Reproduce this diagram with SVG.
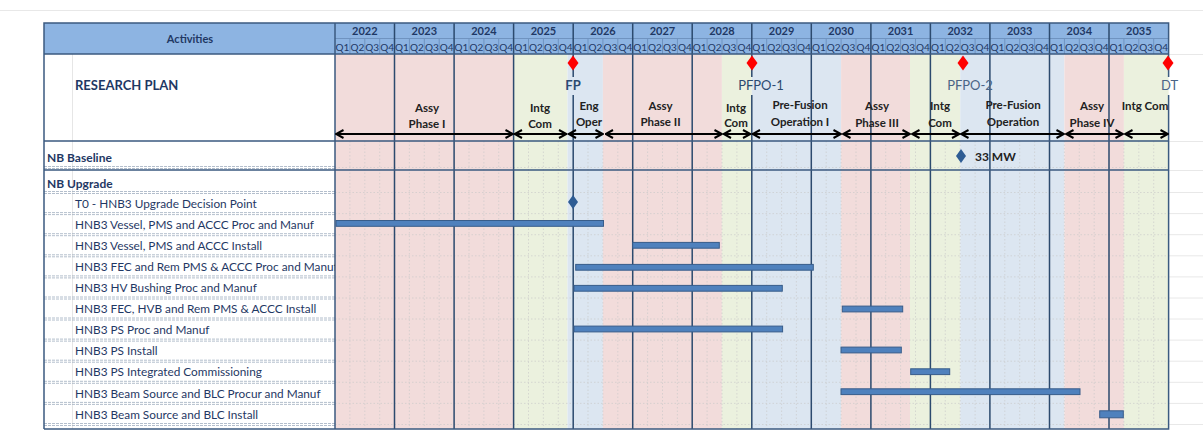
<svg xmlns="http://www.w3.org/2000/svg" width="1203" height="435" viewBox="0 0 1203 435">
<style>
.t{font-family:Lato,"Liberation Sans",sans-serif}
.hdr{font-size:11px;font-weight:bold;fill:#1f3864}
.q{font-size:10px;fill:#1f3864}
.ph{font-size:11.5px;font-weight:bold;fill:#222;text-anchor:middle}
.ms{font-size:13px;text-anchor:middle}
.sec{font-size:12px;font-weight:bold;fill:#1f3864}
.row{font-size:11.8px;fill:#1f3864}
.bar{fill:#4f81bd;stroke:#385d8a;stroke-width:1}
.pink{fill:#f2dcdb}.green{fill:#ebf1de}.blue{fill:#dce6f1}
.yl{stroke:#2c4a6e;stroke-width:1.5;fill:none}
.bd{stroke:#3b5a80;stroke-width:1.5;fill:none}
.dots{stroke:#c8c8c8;stroke-width:0.8;stroke-dasharray:1.5 2;fill:none;opacity:0.8}
.rowsep{stroke:#9fadbf;stroke-width:0.8;stroke-dasharray:3 1;fill:none}
.arr{stroke:#000;stroke-width:2;fill:none;marker-start:url(#ah);marker-end:url(#ah)}
</style>
<defs>
<marker id="ah" viewBox="0 0 10 10" refX="9" refY="5" markerWidth="10" markerHeight="10" markerUnits="userSpaceOnUse" orient="auto-start-reverse">
<path d="M1.5,1 L9,5 L1.5,9" fill="none" stroke="#000" stroke-width="2"/>
</marker>
<clipPath id="lblclip"><rect x="44" y="54" width="291" height="375"/></clipPath>
</defs>
<rect width="1203" height="435" fill="#fff"/>
<!-- faint spreadsheet gridlines outside -->
<g stroke="#e8e8e8" stroke-width="1" fill="none">
<path d="M0 10.5H1203M1169 54.5H1203M1169 141.5H1203M1169 170.5H1203M1169 192.5H1203M1169 213.6H1203M1169 234.7H1203M1169 255.8H1203M1169 276.9H1203M1169 298H1203M1169 319H1203M1169 340.1H1203M1169 361.2H1203M1169 382.3H1203M1169 403.4H1203M1169 424.5H1203"/>
</g>
<!-- phase background bands -->
<g id="bands">
<rect class="pink" x="335" y="54" width="178.6" height="375"/>
<rect class="green" x="513.6" y="54" width="53.9" height="375"/>
<rect class="blue" x="567.5" y="54" width="35.4" height="375"/>
<rect class="pink" x="602.9" y="54" width="119" height="375"/>
<rect class="green" x="721.9" y="54" width="29.9" height="375"/>
<rect class="blue" x="751.8" y="54" width="89.3" height="375"/>
<rect class="pink" x="841.1" y="54" width="68.9" height="375"/>
<rect class="green" x="910" y="54" width="50.2" height="375"/>
<rect class="blue" x="960.2" y="54" width="104.2" height="375"/>
<rect class="pink" x="1064.4" y="54" width="59.5" height="375"/>
<rect class="green" x="1123.9" y="54" width="44.7" height="375"/>
</g>
<!-- faint grid in chart -->
<path class="dots" d="M349.9 141V429M364.8 141V429M379.7 141V429M409.4 141V429M424.3 141V429M439.2 141V429M469 141V429M483.9 141V429M498.7 141V429M528.5 141V429M543.4 141V429M558.3 141V429M588 141V429M602.9 141V429M617.8 141V429M647.6 141V429M662.5 141V429M677.4 141V429M707.1 141V429M722 141V429M736.9 141V429M766.7 141V429M781.6 141V429M796.4 141V429M826.2 141V429M841.1 141V429M856 141V429M885.7 141V429M900.6 141V429M915.5 141V429M945.3 141V429M960.2 141V429M975.1 141V429M1004.8 141V429M1019.7 141V429M1034.6 141V429M1064.4 141V429M1079.3 141V429M1094.2 141V429M1123.9 141V429M1138.8 141V429M1153.7 141V429"/>
<path class="dots" d="M335 167.5H1168.6M335 192.5H1168.6M335 213.6H1168.6M335 234.7H1168.6M335 255.8H1168.6M335 276.9H1168.6M335 298H1168.6M335 319H1168.6M335 340.1H1168.6M335 361.2H1168.6M335 382.3H1168.6M335 403.4H1168.6M335 424.5H1168.6"/>
<!-- label column -->
<g id="label-column">
<path d="M72.5 54V429" stroke="#e6e6e6" stroke-width="1"/>
<path class="rowsep" d="M44 166.5H335M44 168.5H335M44 191.5H335M44 193.5H335M44 212.6H335M44 214.6H335M44 233.7H335M44 235.7H335M44 254.8H335M44 256.8H335M44 275.9H335M44 277.9H335M44 297H335M44 299H335M44 318H335M44 320H335M44 339.1H335M44 341.1H335M44 360.2H335M44 362.2H335M44 381.3H335M44 383.3H335M44 402.4H335M44 404.4H335M44 423.5H335M44 425.5H335"/>
</g>
<!-- header -->
<g id="header">
<rect x="44" y="23" width="1124.6" height="31" fill="#8db4e2"/>
<path d="M335 38.5H1168.6" stroke="#6f93c0" stroke-width="1"/>
<path d="M349.9 38.5V54M364.8 38.5V54M379.7 38.5V54M409.4 38.5V54M424.3 38.5V54M439.2 38.5V54M469 38.5V54M483.9 38.5V54M498.7 38.5V54M528.5 38.5V54M543.4 38.5V54M558.3 38.5V54M588 38.5V54M602.9 38.5V54M617.8 38.5V54M647.6 38.5V54M662.5 38.5V54M677.4 38.5V54M707.1 38.5V54M722 38.5V54M736.9 38.5V54M766.7 38.5V54M781.6 38.5V54M796.4 38.5V54M826.2 38.5V54M841.1 38.5V54M856 38.5V54M885.7 38.5V54M900.6 38.5V54M915.5 38.5V54M945.3 38.5V54M960.2 38.5V54M975.1 38.5V54M1004.8 38.5V54M1019.7 38.5V54M1034.6 38.5V54M1064.4 38.5V54M1079.3 38.5V54M1094.2 38.5V54M1123.9 38.5V54M1138.8 38.5V54M1153.7 38.5V54" stroke="#6f93c0" stroke-width="1"/>
<text class="t hdr" x="190" y="43" text-anchor="middle">Activities</text>
<text class="t hdr" y="35" text-anchor="middle"><tspan x="364.8">2022</tspan><tspan x="424.3">2023</tspan><tspan x="483.9">2024</tspan><tspan x="543.4">2025</tspan><tspan x="602.9">2026</tspan><tspan x="662.5">2027</tspan><tspan x="722">2028</tspan><tspan x="781.6">2029</tspan><tspan x="841.1">2030</tspan><tspan x="900.6">2031</tspan><tspan x="960.2">2032</tspan><tspan x="1019.7">2033</tspan><tspan x="1079.3">2034</tspan><tspan x="1138.8">2035</tspan></text>
<text class="t q" y="50.5" text-anchor="middle"><tspan x="342.4">Q1</tspan><tspan x="357.3">Q2</tspan><tspan x="372.2">Q3</tspan><tspan x="387.1">Q4</tspan><tspan x="402">Q1</tspan><tspan x="416.9">Q2</tspan><tspan x="431.8">Q3</tspan><tspan x="446.6">Q4</tspan><tspan x="461.5">Q1</tspan><tspan x="476.4">Q2</tspan><tspan x="491.3">Q3</tspan><tspan x="506.2">Q4</tspan><tspan x="521.1">Q1</tspan><tspan x="536">Q2</tspan><tspan x="550.8">Q3</tspan><tspan x="565.7">Q4</tspan><tspan x="580.6">Q1</tspan><tspan x="595.5">Q2</tspan><tspan x="610.4">Q3</tspan><tspan x="625.3">Q4</tspan><tspan x="640.1">Q1</tspan><tspan x="655">Q2</tspan><tspan x="669.9">Q3</tspan><tspan x="684.8">Q4</tspan><tspan x="699.7">Q1</tspan><tspan x="714.6">Q2</tspan><tspan x="729.5">Q3</tspan><tspan x="744.3">Q4</tspan><tspan x="759.2">Q1</tspan><tspan x="774.1">Q2</tspan><tspan x="789">Q3</tspan><tspan x="803.9">Q4</tspan><tspan x="818.8">Q1</tspan><tspan x="833.7">Q2</tspan><tspan x="848.5">Q3</tspan><tspan x="863.4">Q4</tspan><tspan x="878.3">Q1</tspan><tspan x="893.2">Q2</tspan><tspan x="908.1">Q3</tspan><tspan x="923">Q4</tspan><tspan x="937.8">Q1</tspan><tspan x="952.7">Q2</tspan><tspan x="967.6">Q3</tspan><tspan x="982.5">Q4</tspan><tspan x="997.4">Q1</tspan><tspan x="1012.3">Q2</tspan><tspan x="1027.2">Q3</tspan><tspan x="1042">Q4</tspan><tspan x="1056.9">Q1</tspan><tspan x="1071.8">Q2</tspan><tspan x="1086.7">Q3</tspan><tspan x="1101.6">Q4</tspan><tspan x="1116.5">Q1</tspan><tspan x="1131.4">Q2</tspan><tspan x="1146.2">Q3</tspan><tspan x="1161.1">Q4</tspan></text>
</g>
<!-- year lines and borders -->
<path class="yl" d="M394.5 23V429M454.1 23V429M513.6 23V429M573.2 23V77M573.2 95V429M632.7 23V429M692.2 23V429M751.8 23V77M751.8 95V429M811.3 23V429M870.9 23V429M930.4 23V429M989.9 23V429M1049.5 23V429M1109 23V429"/>
<path class="bd" d="M44 429V23H1168.6V77M1168.6 95V429H44M335 23V429M44 54H1168.6M44 141H1168.6M44 170H1168.6"/>
<!-- research plan -->
<g id="research-plan">
<text class="t" x="75" y="89.5" font-size="13" font-weight="bold" fill="#1f3864">RESEARCH PLAN</text>
</g>
<g id="milestones">
<path d="M573 55.5L578.5 63L573 70.5L567.5 63Z" fill="#f00"/>
<path d="M752 55.5L757.5 63L752 70.5L746.5 63Z" fill="#f00"/>
<path d="M963 55.5L968.5 63L963 70.5L957.5 63Z" fill="#f00"/>
<path d="M1168 55.5L1173.5 63L1168 70.5L1162.5 63Z" fill="#f00"/>
<text class="t ms" x="573" y="90" font-weight="bold" fill="#2b4a70">FP</text>
<text class="t ms" x="761" y="90" fill="#2b4a70">PFPO-1</text>
<text class="t ms" x="970" y="90" fill="#4a6486">PFPO-2</text>
<text class="t ms" x="1169.5" y="90" fill="#4a6486">DT</text>
</g>
<g id="phases">
<text class="t ph" x="427" y="112">Assy</text><text class="t ph" x="427" y="128">Phase I</text>
<text class="t ph" x="540" y="112">Intg</text><text class="t ph" x="540" y="128">Com</text>
<text class="t ph" x="589" y="110">Eng</text><text class="t ph" x="589" y="126">Oper</text>
<text class="t ph" x="660.5" y="110">Assy</text><text class="t ph" x="660.5" y="126">Phase II</text>
<text class="t ph" x="736" y="112">Intg</text><text class="t ph" x="736" y="127">Com</text>
<text class="t ph" x="800" y="109">Pre-Fusion</text><text class="t ph" x="800" y="126">Operation  I</text>
<text class="t ph" x="877" y="110">Assy</text><text class="t ph" x="877" y="127">Phase III</text>
<text class="t ph" x="940" y="110">Intg</text><text class="t ph" x="940" y="127">Com</text>
<text class="t ph" x="1013" y="109">Pre-Fusion</text><text class="t ph" x="1013" y="126">Operation</text>
<text class="t ph" x="1092" y="110">Assy</text><text class="t ph" x="1092" y="127">Phase IV</text>
<text class="t ph" x="1145" y="110">Intg Com</text>
</g>
<g id="connectors">
<line class="arr" x1="336" y1="134" x2="513" y2="134"/>
<line class="arr" x1="514.5" y1="134" x2="566.5" y2="134"/>
<line class="arr" x1="568.5" y1="134" x2="603" y2="134"/>
<line class="arr" x1="605.5" y1="134" x2="722" y2="134"/>
<line class="arr" x1="723.5" y1="134" x2="750.5" y2="134"/>
<line class="arr" x1="752.5" y1="134" x2="841" y2="134"/>
<line class="arr" x1="843" y1="134" x2="910" y2="134"/>
<line class="arr" x1="912" y1="134" x2="959.5" y2="134"/>
<line class="arr" x1="961" y1="134" x2="1064" y2="134"/>
<line class="arr" x1="1066" y1="134" x2="1123" y2="134"/>
<line class="arr" x1="1125" y1="134" x2="1168" y2="134"/>
</g>
<!-- NB Baseline -->
<g id="nb-baseline">
<text class="t sec" x="47" y="162">NB Baseline</text>
<path d="M961 149L966 156L961 163L956 156Z" fill="#2e5c94"/>
<text class="t" x="975" y="160.5" font-size="12" font-weight="bold" fill="#222">33 MW</text>
</g>
<g id="nb-upgrade">
<text class="t sec" x="47" y="187.5">NB Upgrade</text>
</g>
<g id="rows" clip-path="url(#lblclip)">
<text class="t row" x="75" y="208">T0 - HNB3 Upgrade Decision Point</text>
<text class="t row" x="75" y="229">HNB3 Vessel, PMS and ACCC Proc and Manuf</text>
<text class="t row" x="75" y="250">HNB3 Vessel, PMS and ACCC Install</text>
<text class="t row" x="75" y="271">HNB3 FEC and Rem PMS &amp; ACCC Proc and Manuf</text>
<text class="t row" x="75" y="292">HNB3 HV Bushing Proc and Manuf</text>
<text class="t row" x="75" y="313">HNB3 FEC, HVB and Rem PMS &amp; ACCC Install</text>
<text class="t row" x="75" y="334">HNB3 PS Proc and Manuf</text>
<text class="t row" x="75" y="355">HNB3 PS Install</text>
<text class="t row" x="75" y="376">HNB3 PS Integrated Commissioning</text>
<text class="t row" x="75" y="397.5">HNB3 Beam Source and BLC Procur and Manuf</text>
<text class="t row" x="75" y="418.5">HNB3 Beam Source and BLC Install</text>
</g>
<g id="bars">
<path d="M573 195L578 202L573 209L568 202Z" fill="#2e5c94"/>
<rect class="bar" x="336" y="220.5" width="267.5" height="5.8"/>
<rect class="bar" x="632.7" y="242.4" width="86.6" height="5.8"/>
<rect class="bar" x="575.7" y="264.4" width="237.6" height="5.8"/>
<rect class="bar" x="574" y="285.4" width="208.3" height="5.8"/>
<rect class="bar" x="842.3" y="306.1" width="60.4" height="5.8"/>
<rect class="bar" x="574" y="326.1" width="208.6" height="5.8"/>
<rect class="bar" x="841" y="347.1" width="60.3" height="5.8"/>
<rect class="bar" x="910.7" y="368.8" width="39" height="5.8"/>
<rect class="bar" x="841" y="388.8" width="239" height="5.8"/>
<rect class="bar" x="1099.7" y="410.8" width="23.6" height="7"/>
</g>
</svg>
